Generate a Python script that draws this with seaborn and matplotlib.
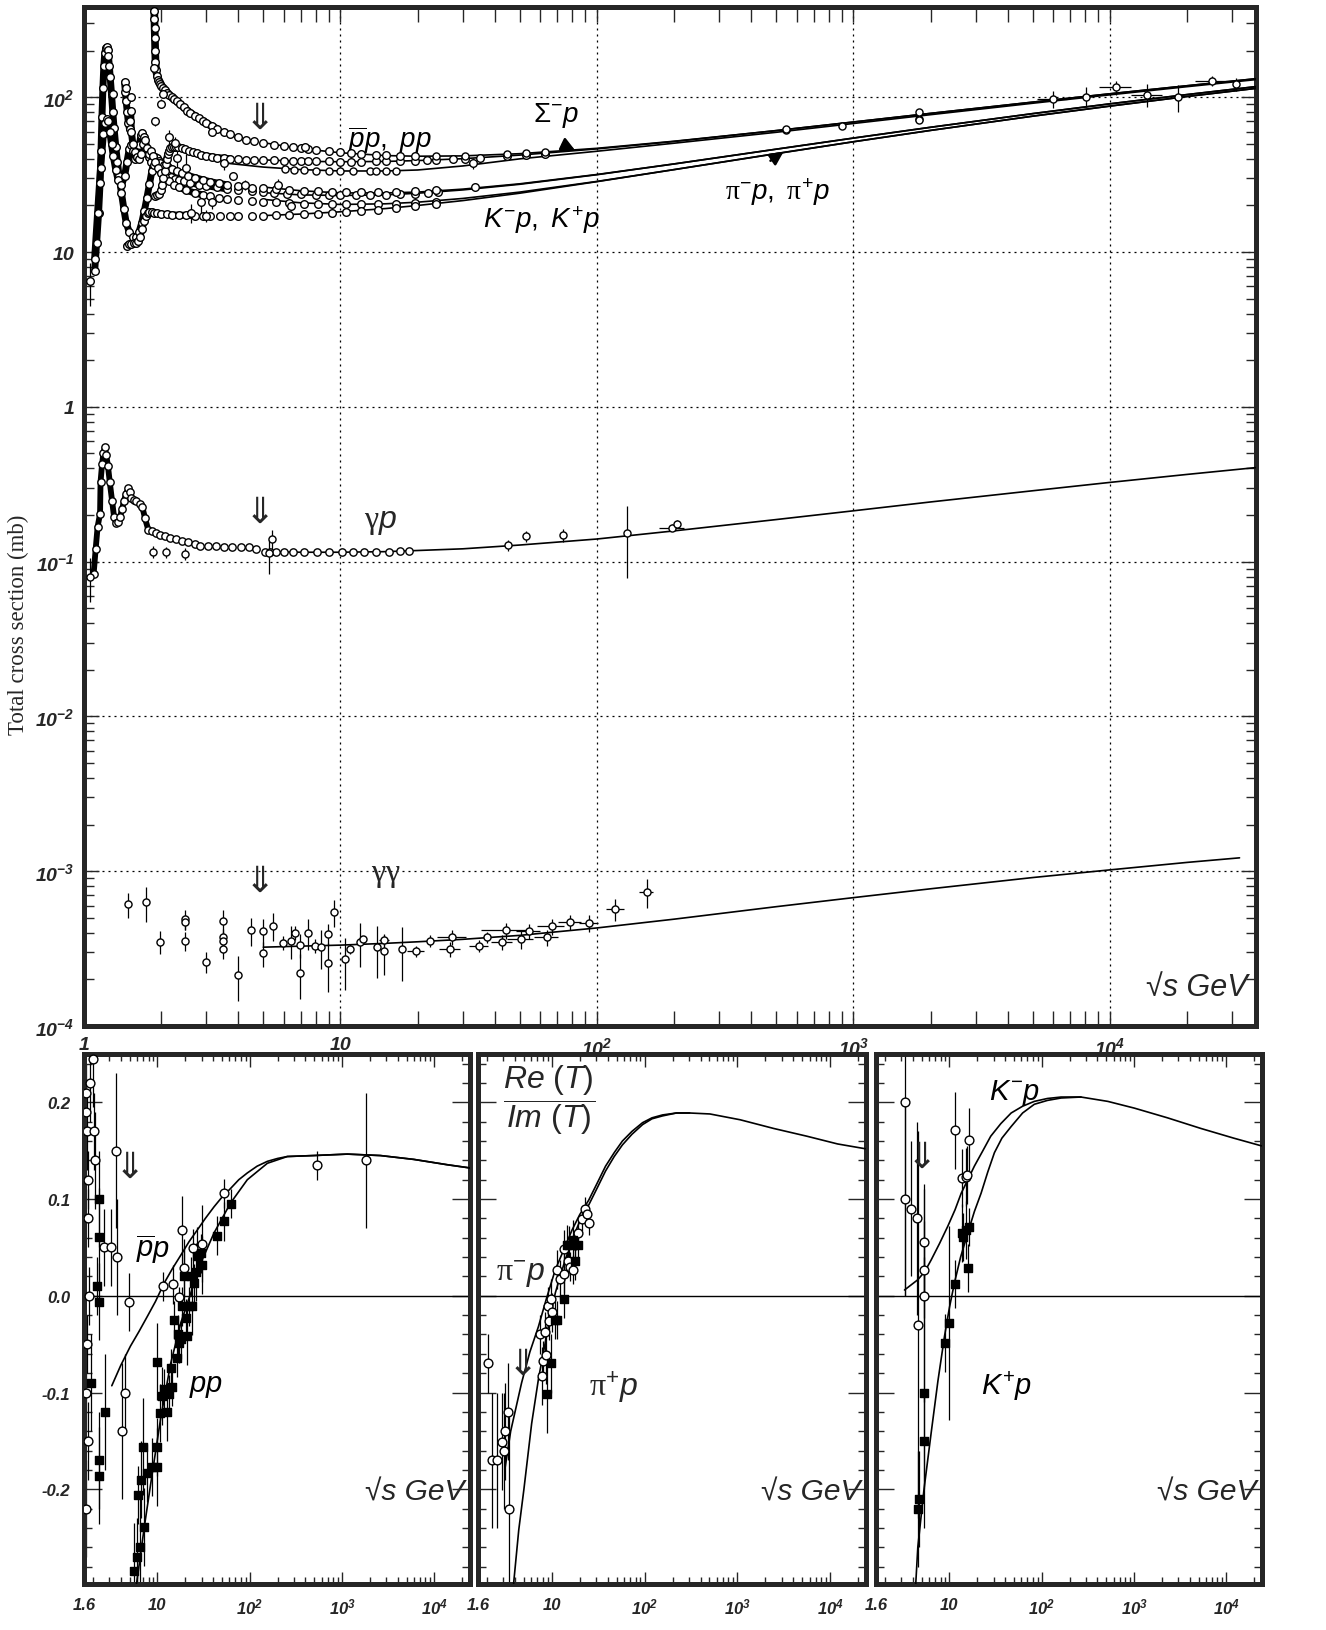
import matplotlib
matplotlib.use("Agg")
import matplotlib.pyplot as plt
import seaborn as sns
import numpy as np
from matplotlib.ticker import FixedLocator, LogLocator, MultipleLocator, NullFormatter

# ======================= TOP PANEL DATA =======================
# fitted curves (sqrt(s) in GeV, sigma in mb)
fit_s = [5, 7, 10, 15, 20, 30, 50, 100, 200, 500, 1000, 2000, 5000, 1e4, 2e4, 3.7e4]
fit_pbarp = [50.9, 46.6, 43.8, 42.0, 41.6, 41.8, 43.2, 46.8, 52.0, 60.9, 69.2, 78.7, 93.0, 105.3, 118.7, 131.7]
fit_pp = [39.4, 38.6, 38.3, 38.5, 39.0, 40.1, 42.3, 46.4, 51.8, 60.9, 69.2, 78.7, 93.0, 105.3, 118.7, 131.7]
fit_pim = [26.3, 24.9, 24.1, 24.1, 24.4, 25.5, 27.6, 31.7, 37.1, 46.2, 54.5, 64.0, 78.4, 90.7, 104.1, 117.1]
fit_pip = [24.2, 23.4, 23.2, 23.4, 24.0, 25.2, 27.4, 31.6, 37.1, 46.2, 54.5, 64.0, 78.4, 90.7, 104.1, 117.1]
fit_km = [21.9, 20.8, 20.3, 20.5, 21.0, 22.2, 24.4, 28.6, 34.1, 43.3, 51.6, 61.1, 75.5, 87.7, 101.2, 114.1]
fit_kp = [17.2, 17.6, 18.2, 19.1, 20.0, 21.5, 24.0, 28.5, 34.1, 43.2, 51.6, 61.1, 75.5, 87.7, 101.2, 114.1]
fit_gp = [0.116, 0.115, 0.115, 0.116, 0.118, 0.121, 0.128, 0.140, 0.158, 0.187, 0.213, 0.243, 0.287, 0.325, 0.366, 0.405]
fit_sig_s = [3.6, 5, 7, 10, 15, 20, 30, 50, 100, 200, 500, 1000, 2000, 5000, 1e4, 2e4, 3.7e4]
fit_sig = [37.5, 35.4, 34.1, 33.4, 33.4, 33.9, 36.0, 40.0, 44.8, 50.5, 59.4, 67.7, 77.2, 91.5, 103.7, 117.1, 130.0]
fit_gg_s = [5, 7, 10, 15, 20, 30, 50, 100, 200, 500, 1000, 2000, 5000, 1e4, 2e4, 3.2e4]
fit_gg = [3.23e-4, 3.28e-4, 3.33e-4, 3.42e-4, 3.5e-4, 3.63e-4, 3.85e-4, 4.3e-4, 4.9e-4, 5.9e-4,
          6.75e-4, 7.7e-4, 9.1e-4, 1.02e-3, 1.14e-3, 1.22e-3]

# measured cross sections
pip_x = [1.10, 1.12, 1.14, 1.155, 1.165, 1.175, 1.185, 1.195, 1.205, 1.215, 1.225, 1.235, 1.245, 1.255, 1.265,
         1.28, 1.295, 1.31, 1.33, 1.35, 1.37, 1.40, 1.43, 1.46, 1.50, 1.55, 1.60, 1.64, 1.68, 1.72, 1.76, 1.80,
         1.84, 1.87, 1.90, 1.93, 1.96, 2.00, 2.05, 2.10, 2.18, 2.26, 2.35, 2.45, 2.6, 2.8, 3.0, 3.3, 3.6, 4.0,
         4.5, 5.0, 5.5, 6.2, 7.0, 8.0, 9.0, 10.0, 11.5, 13.0, 15.0, 17.0, 19.5, 22.0, 24.0]
pip_y = [7.5, 11.5, 18, 28, 45, 75, 115, 160, 192, 207, 210, 203, 185, 160, 135, 105, 80, 63, 48, 38, 31, 24, 19,
         15.5, 13.5, 12.5, 12.5, 13.5, 15.5, 18.5, 22.5, 27.5, 33.5, 38, 41, 40.5, 38.5, 36, 33.5, 32, 30.5, 29.8,
         29.2, 28.6, 28, 27.3, 26.8, 26.2, 25.6, 25.1, 24.7, 24.4, 24.1, 23.8, 23.6, 23.4, 23.3, 23.2, 23.2, 23.3,
         23.4, 23.6, 23.8, 24.1, 24.3]
pim_x = [1.10, 1.13, 1.16, 1.19, 1.21, 1.225, 1.24, 1.26, 1.28, 1.30, 1.33, 1.36, 1.40, 1.44, 1.47, 1.50, 1.52,
         1.55, 1.58, 1.61, 1.64, 1.67, 1.69, 1.72, 1.75, 1.79, 1.83, 1.88, 1.93, 1.98, 2.05, 2.12, 2.2, 2.3, 2.42,
         2.55, 2.7, 2.9, 3.1, 3.35, 3.6, 4.0, 4.5, 5.0, 5.6, 6.3, 7.2, 8.2, 9.3, 10.5, 12, 14, 16.5, 19.5, 23.5]
pim_y = [9, 18, 35, 58, 68, 72, 70, 60, 50, 42, 34, 29, 27, 31, 38, 46, 49, 45, 40, 41, 49, 57, 59, 55, 47, 41, 38,
         36.5, 37.5, 37.8, 36.5, 35.3, 34.3, 33.3, 32.2, 31.2, 30.3, 29.3, 28.5, 27.8, 27.2, 26.6, 26.1, 25.8, 25.4,
         25.1, 24.9, 24.7, 24.6, 24.5, 24.4, 24.4, 24.5, 24.7, 25.0]
km_x = [1.44, 1.45, 1.46, 1.475, 1.49, 1.505, 1.515, 1.52, 1.53, 1.55, 1.58, 1.61, 1.64, 1.67, 1.70, 1.73, 1.76,
        1.79, 1.82, 1.85, 1.89, 1.94, 2.0, 2.07, 2.15, 2.25, 2.35, 2.5, 2.7, 2.9, 3.1, 3.35, 3.6, 4.0, 4.5, 5.0,
        5.6, 6.3, 7.2, 8.2, 9.3, 10.5, 12, 14, 16.5, 19.5, 23.5]
km_y = [125, 108, 95, 80, 68, 62, 70, 82, 60, 50, 44, 41, 40, 43, 50, 53, 47, 43, 45, 42, 38, 35, 32.5, 30.5, 28.8,
        27.3, 26.2, 25.1, 24.1, 23.4, 22.9, 22.4, 22.0, 21.6, 21.3, 21.1, 20.9, 20.7, 20.5, 20.4, 20.3, 20.3, 20.3,
        20.4, 20.5, 20.8, 21.1]
kp_x = [1.47, 1.50, 1.53, 1.56, 1.59, 1.62, 1.65, 1.68, 1.71, 1.74, 1.77, 1.80, 1.84, 1.88, 1.93, 2.0, 2.1, 2.2,
        2.35, 2.5, 2.7, 2.9, 3.1, 3.4, 3.7, 4.0, 4.5, 5.0, 5.6, 6.3, 7.2, 8.2, 9.3, 10.5, 12, 14, 16.5, 19.5, 23.5]
kp_y = [11.0, 11.2, 11.3, 11.4, 11.5, 11.8, 12.5, 14.0, 15.8, 17.2, 17.9, 18.2, 18.2, 18.0, 17.8, 17.6, 17.5, 17.4,
        17.3, 17.3, 17.2, 17.2, 17.2, 17.1, 17.1, 17.1, 17.1, 17.2, 17.3, 17.4, 17.5, 17.7, 17.9, 18.1, 18.4, 18.8,
        19.2, 19.7, 20.3]
pp_x = [1.90, 1.93, 1.96, 2.0, 2.02, 2.04, 2.06, 2.08, 2.10, 2.12, 2.14, 2.17, 2.2, 2.24, 2.28, 2.33, 2.4, 2.48,
        2.56, 2.65, 2.75, 2.85, 3.0, 3.15, 3.3, 3.5, 3.7, 4.0, 4.3, 4.6, 5.0, 5.5, 6.0, 6.5, 7.0, 7.5, 8.0, 9.0,
        10.0, 11.0, 12.0, 13.8, 15.0, 17.0, 19.5, 21.7, 23.5, 27.4, 30.6, 35, 44.7, 52.8, 62.5]
pp_y = [23.0, 23.2, 23.8, 25, 27, 30, 33.5, 37, 40, 43, 45, 47, 47.8, 48, 47.8, 47.4, 46.8, 46, 45.1, 44.2, 43.4,
        42.6, 41.8, 41.2, 40.8, 40.4, 40.1, 39.8, 39.6, 39.4, 39.3, 39.1, 39.0, 38.9, 38.8, 38.7, 38.6, 38.5, 38.4,
        38.4, 38.4, 38.5, 38.6, 38.8, 39.0, 39.3, 39.5, 39.9, 40.1, 40.6, 41.7, 42.4, 43.3]
pbp_x = [1.88, 1.882, 1.885, 1.89, 1.895, 1.90, 1.91, 1.925, 1.94, 1.96, 1.98, 2.0, 2.03, 2.06, 2.1, 2.15, 2.2,
         2.25, 2.3, 2.37, 2.45, 2.53, 2.6, 2.7, 2.8, 2.9, 3.0, 3.15, 3.3, 3.5, 3.7, 4.0, 4.3, 4.6, 5.0, 5.5, 6.0,
         6.5, 7.0, 7.5, 8.0, 9.0, 10.0, 11.0, 12.0, 13.8, 15.0, 17.0, 19.5]
pbp_y = [360, 320, 280, 240, 200, 170, 150, 138, 130, 125, 122, 119, 115, 111, 107, 103, 100, 97, 94, 90, 86, 82,
         79, 76, 73, 70.5, 68, 65, 62.5, 59.5, 57.5, 55, 53.2, 52, 50.8, 49.5, 48.3, 47.4, 46.7, 46.1, 45.6, 44.9,
         44.1, 43.6, 43.1, 42.5, 42.2, 41.9, 41.7]
pbp_hx = [23.5, 30.6, 44.7, 52.8, 62.5, 546, 546, 900, 1800, 1800, 1800]
pbp_hy = [41.6, 41.8, 42.8, 43.5, 44.3, 61.9, 62.5, 65.3, 72.8, 80.0, 71.7]
pbp_he = [0.3, 0.3, 0.3, 0.4, 0.4, 1.5, 1.5, 1.6, 3.1, 2.2, 2.0]
sig_x = [6.1, 6.6, 7.2, 8.0, 9.0, 10.0, 11.2, 13.0, 13.8, 15.0, 16.5]
sig_y = [34.3, 34.0, 33.7, 33.5, 33.4, 33.3, 33.2, 33.3, 33.3, 33.4, 33.6]
cr_x = [6000, 8100, 10600, 14000, 18400, 25000, 31000]
cr_y = [97, 101, 116, 104, 100, 128, 121]
cr_ye = [12, 15, 12, 17, 20, 9, 12]
cr_xe = [800, 0, 1500, 1900, 0, 3500, 0]
misc_x = [1.055, 1.46, 1.88, 1.90, 2.00, 2.03, 2.27, 2.30, 2.50, 2.85, 3.16, 3.16, 3.50, 3.80, 4.24, 5.70, 6.40,
          7.3, 33.0, 33.5, 1.30, 1.52, 2.15, 2.62, 3.0]
misc_y = [6.5, 115, 155, 70, 91, 105, 51, 40.5, 35, 21, 21, 60, 37.7, 31.2, 27, 27, 19.9, 47.5, 37.5, 26.5,
          105, 100, 55, 18, 17.2]
misc_e = [2.0, 8, 10, 5, 6, 6, 4, 5, 8, 3, 2, 3, 4, 1.2, 2, 2.5, 1.5, 2.5, 3.0, 1.5, 8, 6, 6, 2.5, 1.5]

gp_x = [1.09, 1.11, 1.13, 1.155, 1.16, 1.176, 1.19, 1.206, 1.22, 1.24, 1.26, 1.287, 1.31, 1.334, 1.36, 1.38, 1.41,
        1.43, 1.46, 1.49, 1.51, 1.53, 1.56, 1.6, 1.65, 1.69, 1.73, 1.78, 1.84, 1.91, 1.98, 2.06, 2.17, 2.29, 2.42,
        2.55, 2.7, 2.84, 3.05, 3.28, 3.5, 3.79, 4.1, 4.38, 4.7, 5.06, 5.3, 5.6, 6.0, 6.5, 7.2, 8.1, 9.0, 10.1,
        11.2, 12.4, 13.8, 15.5, 17, 18.5]
gp_y = [0.083, 0.12, 0.168, 0.204, 0.327, 0.425, 0.50, 0.55, 0.49, 0.415, 0.327, 0.246, 0.194, 0.177, 0.18, 0.194,
        0.22, 0.246, 0.275, 0.298, 0.28, 0.258, 0.25, 0.246, 0.235, 0.224, 0.19, 0.161, 0.157, 0.153, 0.149,
        0.146, 0.142, 0.139, 0.136, 0.133, 0.130, 0.127, 0.127, 0.127, 0.125, 0.124, 0.124, 0.124, 0.12, 0.116,
        0.115, 0.115, 0.115, 0.115, 0.115, 0.115, 0.115, 0.115, 0.115, 0.116, 0.116, 0.116, 0.117, 0.118]
gpo_x = [1.055, 1.86, 2.09, 2.48, 5.25, 5.42]
gpo_y = [0.080, 0.116, 0.115, 0.112, 0.113, 0.140]
gpo_e = [0.025, 0.010, 0.010, 0.010, 0.030, 0.020]
gph_x = [45, 53, 74, 131, 196, 205]
gph_y = [0.128, 0.146, 0.148, 0.153, 0.166, 0.175]
gph_e = [0.010, 0.012, 0.015, 0.075, 0.008, 0.010]
gph_xe = [0, 0, 0, 0, 22, 0]

gg_x = [1.49, 1.74, 1.98, 2.48, 2.48, 2.48, 2.98, 3.47, 3.47, 3.47, 3.47, 3.98, 4.46, 4.97, 4.97, 5.44, 5.95,
        6.44, 6.62, 6.95, 6.95, 7.45, 7.92, 8.42, 8.92, 8.92, 9.4, 10.4, 10.9, 11.9, 12.2, 13.9, 14.8, 14.8,
        17.3, 19.7, 22.4, 26.8, 27.3, 34.6, 37.4, 42.6, 44.3, 50.4, 54.2, 63.7, 66.5, 78.6, 93.1, 118, 156]
gg_y = [6.1, 6.3, 3.5, 4.9, 4.7, 3.55, 2.6, 4.8, 3.75, 3.55, 3.15, 2.15, 4.15, 4.1, 2.95, 4.45, 3.45, 3.55, 4.0,
        3.35, 2.2, 4.0, 3.3, 3.25, 3.95, 2.55, 5.45, 2.7, 3.15, 3.5, 3.65, 3.25, 3.6, 3.05, 3.15, 3.05, 3.55,
        3.15, 3.75, 3.3, 3.75, 3.5, 4.15, 3.65, 4.1, 3.75, 4.4, 4.7, 4.65, 5.7, 7.35]   # units of 1e-4 mb
gg_e = [1.1, 1.6, 0.6, 0.7, 0.5, 0.5, 0.4, 0.8, 0.5, 0.5, 0.45, 0.7, 0.85, 0.8, 0.55, 0.9, 0.35, 0.85, 0.4, 0.6,
        0.7, 0.9, 0.35, 0.9, 0.6, 0.9, 1.1, 1.0, 0.25, 1.1, 0.15, 1.2, 0.3, 0.9, 1.2, 0.25, 0.3, 0.35, 0.4, 0.3,
        0.3, 0.4, 0.5, 0.5, 0.45, 0.45, 0.5, 0.5, 0.6, 0.9, 1.6]
gg_xe = [0, 0, 0, 0, 0, 0, 0, 0, 0, 0, 0, 0, 0, 0, 0, 0, 0, 0, 0, 0, 0, 0, 0, 0, 0, 0, 0, 0, 0, 0, 0, 0, 0.7, 0,
         0, 1.5, 0, 2.5, 3.5, 3.0, 0, 4.0, 9.0, 6.0, 6.0, 7.0, 8.0, 8.0, 8.0, 10.0, 10.0]

# ======================= BOTTOM PANELS DATA (rho = Re/Im) =======================
rho_pp_fit_x = [5.0, 7.2, 8.8, 10.9, 13.9, 17.9, 23, 29.5, 41, 62, 94, 155, 255, 490, 1140, 2600, 6000, 13800, 25000]
rho_pp_fit_y = [-0.35, -0.239, -0.183, -0.125, -0.070, -0.028, 0.003, 0.034, 0.065, 0.096, 0.120, 0.137, 0.144,
                0.145, 0.1465, 0.145, 0.141, 0.1355, 0.132]
rho_pbp_fit_x = [3.2, 4.0, 5.1, 6.3, 7.8, 9.5, 11.8, 14.5, 17.9, 22, 27, 33, 41, 50, 62, 76, 94, 120, 155, 200, 255,
                 490, 1140, 2600, 6000, 13800, 25000]
rho_pbp_fit_y = [-0.093, -0.072, -0.052, -0.037, -0.021, -0.006, 0.013, 0.028, 0.042, 0.056, 0.068, 0.080, 0.092,
                 0.102, 0.111, 0.120, 0.127, 0.134, 0.139, 0.142, 0.144, 0.145, 0.1465, 0.145, 0.141, 0.1355, 0.132]
rho_pbp_x = [1.68, 1.70, 1.72, 1.75, 1.78, 1.80, 1.72, 1.70, 1.75, 1.68, 1.85, 2.0, 2.05, 2.1, 2.64, 3.1, 3.6,
             3.54, 4.9, 4.5, 4.08, 11.5, 14.9, 17.0, 18.3, 19.4, 24.1, 30.7, 52.6, 541, 1800]
rho_pbp_y = [0.21, 0.19, 0.17, 0.12, 0.08, 0.0, -0.05, -0.10, -0.15, -0.22, 0.22, 0.245, 0.17, 0.14, 0.05, 0.05,
             0.04, 0.15, -0.006, -0.10, -0.14, 0.010, 0.012, -0.001, 0.068, 0.029, 0.049, 0.054, 0.106, 0.135, 0.140]
rho_pbp_e = [0.03, 0.03, 0.04, 0.03, 0.03, 0.03, 0.03, 0.04, 0.04, 0.05, 0.04, 0.05, 0.04, 0.05, 0.04, 0.04, 0.06,
             0.08, 0.03, 0.04, 0.07, 0.015, 0.02, 0.01, 0.035, 0.03, 0.02, 0.04, 0.015, 0.015, 0.07]
rho_pp_x = [6.1, 6.6, 6.9, 7.2, 7.67, 8.68, 9.83, 10.0, 9.83, 10.7, 11.3, 11.8, 12.6, 13.4, 13.9, 14.5, 15.1, 16.2,
            16.7, 17.1, 17.9, 18.3, 19.4, 20.4, 21.0, 22.0, 23.0, 23.9, 24.9, 25.9, 27.0, 29.5, 30.2, 44.6, 52.6,
            62.0, 5.6, 6.0, 6.4, 2.33, 2.33, 2.33, 2.2, 1.9, 2.7, 2.3, 2.3]
rho_pp_y = [-0.206, -0.19, -0.156, -0.239, -0.183, -0.177, -0.177, -0.156, -0.068, -0.121, -0.104, -0.096, -0.12,
            -0.102, -0.075, -0.094, -0.025, -0.064, -0.04, -0.049, -0.045, -0.011, 0.02, -0.023, -0.042, -0.011,
            0.02, -0.011, 0.013, 0.025, 0.041, 0.044, 0.032, 0.062, 0.077, 0.095, -0.285, -0.27, -0.26, 0.10,
            0.061, -0.006, 0.01, -0.09, -0.12, -0.17, -0.186]
rho_pp_e = [0.03, 0.04, 0.05, 0.04, 0.03, 0.03, 0.04, 0.03, 0.04, 0.03, 0.03, 0.02, 0.03, 0.02, 0.02, 0.02, 0.02,
            0.02, 0.02, 0.02, 0.02, 0.02, 0.03, 0.02, 0.03, 0.02, 0.02, 0.03, 0.02, 0.03, 0.03, 0.02, 0.03, 0.02,
            0.02, 0.015, 0.05, 0.04, 0.05, 0.05, 0.05, 0.04, 0.03, 0.05, 0.06, 0.05, 0.05]

rho_pim_fit_x = [3.11, 3.6, 4.72, 5.8, 7.16, 8.8, 10.9, 13.5, 16.5, 20, 25, 31, 37.9, 47, 57.6, 73, 95, 120, 156,
                 220, 305, 505, 1070, 2460, 5600, 12000, 24000]
rho_pim_fit_y = [-0.18, -0.14, -0.09, -0.058, -0.032, -0.002, 0.027, 0.048, 0.068, 0.084, 0.099, 0.117, 0.134,
                 0.148, 0.160, 0.170, 0.179, 0.184, 0.187, 0.189, 0.189, 0.188, 0.182, 0.173, 0.165, 0.157, 0.152]
rho_pip_fit_x = [3.85, 4.4, 5.0, 6.06, 7.2, 8.47, 9.6, 10.9, 13.5, 16.5, 20, 25, 31, 37.9, 47, 57.6, 73, 95, 120,
                 156, 220, 305]
rho_pip_fit_y = [-0.30, -0.242, -0.20, -0.132, -0.085, -0.049, -0.022, 0.003, 0.033, 0.058, 0.077, 0.094, 0.112,
                 0.129, 0.144, 0.156, 0.167, 0.177, 0.183, 0.186, 0.189, 0.189]
rho_pim_x = [2.05, 2.27, 2.59, 2.87, 3.04, 3.16, 3.33, 3.46, 7.47, 7.79, 8.12, 8.6, 8.47, 8.98, 9.35, 9.76, 10.1,
             11.3, 12.1, 13.4, 13.4, 14.8, 15.8, 16.8, 17.6, 19.0, 21.2, 23.0, 24.0, 25.0]
rho_pim_y = [-0.07, -0.17, -0.17, -0.151, -0.16, -0.14, -0.12, -0.22, -0.04, -0.083, -0.067, -0.061, -0.037,
             -0.011, -0.026, -0.003, -0.017, 0.027, 0.017, 0.023, 0.048, 0.036, 0.03, 0.027, 0.053, 0.065, 0.079,
             0.09, 0.085, 0.075]
rho_pim_e = [0.03, 0.07, 0.07, 0.05, 0.06, 0.05, 0.05, 0.10, 0.02, 0.03, 0.02, 0.03, 0.02, 0.02, 0.02, 0.02, 0.02,
             0.02, 0.02, 0.02, 0.02, 0.015, 0.015, 0.015, 0.015, 0.012, 0.012, 0.012, 0.01, 0.012]
rho_pip_x = [8.83, 9.8, 10.7, 11.3, 13.4, 14.5, 15.4, 16.8, 17.6, 19.1]
rho_pip_y = [-0.102, -0.07, -0.025, -0.025, -0.003, 0.053, 0.052, 0.058, 0.036, 0.053]
rho_pip_e = [0.04, 0.03, 0.02, 0.02, 0.02, 0.02, 0.02, 0.02, 0.02, 0.015]

rho_km_fit_x = [3.26, 4.54, 5.4, 6.33, 7.8, 9.6, 11.5, 13.4, 15.8, 18.6, 23, 28, 36, 46.6, 62, 83, 115, 162, 266,
                519, 1010, 2300, 5300, 12000, 24000]
rho_km_fit_y = [0.006, 0.0166, 0.025, 0.037, 0.054, 0.072, 0.089, 0.106, 0.12, 0.134, 0.15, 0.165, 0.178, 0.189,
                0.196, 0.201, 0.204, 0.2055, 0.2055, 0.201, 0.194, 0.184, 0.173, 0.163, 0.155]
rho_kp_fit_x = [4.3, 4.54, 5.3, 6.33, 7.5, 8.83, 10, 11.3, 13.2, 15.8, 18.6, 22, 26, 30.7, 37, 46.6, 62, 83, 115,
                162, 266]
rho_kp_fit_y = [-0.30, -0.26, -0.20, -0.142, -0.088, -0.042, -0.012, 0.013, 0.040, 0.065, 0.087, 0.106, 0.128,
                0.148, 0.163, 0.175, 0.189, 0.198, 0.202, 0.2045, 0.2055]
rho_km_x = [3.28, 3.28, 3.84, 4.46, 5.27, 5.27, 5.27, 4.54, 11.6, 13.8, 15.1, 15.5, 16.4]
rho_km_y = [0.20, 0.10, 0.09, 0.08, 0.056, 0.027, 0.0, -0.03, 0.171, 0.122, 0.123, 0.125, 0.161]
rho_km_e = [0.20, 0.10, 0.07, 0.10, 0.06, 0.05, 0.11, 0.20, 0.04, 0.03, 0.03, 0.03, 0.033]
rho_kp_x = [5.24, 5.27, 4.62, 4.54, 9.05, 10.0, 11.6, 13.7, 14.1, 15.2, 16.2, 15.8]
rho_kp_y = [-0.10, -0.15, -0.21, -0.22, -0.049, -0.028, 0.012, 0.065, 0.061, 0.068, 0.071, 0.029]
rho_kp_e = [0.14, 0.05, 0.05, 0.06, 0.03, 0.10, 0.025, 0.03, 0.025, 0.03, 0.02, 0.025]

# tick label texts
top_x_ticks = [1, 10, 100, 1000, 10000]
top_x_labels = ["1", "10", r"10$^{\mathbf{2}}$", r"10$^{\mathbf{3}}$", r"10$^{\mathbf{4}}$"]
top_y_ticks = [1e-4, 1e-3, 1e-2, 1e-1, 1, 10, 100]
top_y_labels = [r"10$^{\mathbf{-4}}$", r"10$^{\mathbf{-3}}$", r"10$^{\mathbf{-2}}$", r"10$^{\mathbf{-1}}$",
                "1", "10", r"10$^{\mathbf{2}}$"]
bot_x_ticks = [1.6, 10, 100, 1000, 10000]
bot_x_labels = ["1.6", "10", r"10$^{\mathbf{2}}$", r"10$^{\mathbf{3}}$", r"10$^{\mathbf{4}}$"]
bot_y_ticks = [-0.2, -0.1, 0.0, 0.1, 0.2]
bot_y_labels = ["-0.2", "-0.1", "0.0", "0.1", "0.2"]

# ======================= STYLE =======================
sns.set_style("ticks")
plt.rcParams["font.family"] = ["Liberation Sans", "DejaVu Sans"]
plt.rcParams["mathtext.fontset"] = "custom"
plt.rcParams["mathtext.rm"] = "Liberation Sans"
plt.rcParams["mathtext.it"] = "Liberation Sans:style=italic"
plt.rcParams["mathtext.bf"] = "Liberation Sans:style=italic:weight=bold"
plt.rcParams["mathtext.sf"] = "Liberation Serif"
plt.rcParams["axes.linewidth"] = 3.6

fig = plt.figure(figsize=(13.26, 16.31), dpi=100)
ax_t = fig.add_axes([0.06335, 0.37033, 0.88386, 0.62477])
ax1 = fig.add_axes([0.06335, 0.02820, 0.29110, 0.32496])
ax2 = fig.add_axes([0.36048, 0.02820, 0.29261, 0.32496])
ax3 = fig.add_axes([0.66063, 0.02820, 0.29110, 0.32496])


def draw_line(ax, xs, ys, lw=1.0):
    sns.lineplot(x=list(xs), y=list(ys), ax=ax, color="black", linewidth=lw,
                 estimator=None, sort=False, legend=False, zorder=3)


def draw_points(ax, xs, ys, yerr=None, xerr=None, marker="o", filled=False, s=26, elw=0.9):
    if yerr is not None or xerr is not None:
        ax.errorbar(xs, ys, yerr=yerr, xerr=xerr, fmt="none", ecolor="black",
                    elinewidth=elw, capsize=0, zorder=2.5)
    sns.scatterplot(x=list(xs), y=list(ys), ax=ax, marker=marker, s=s,
                    color=("black" if filled else "white"), edgecolor="black",
                    linewidth=1.0, legend=False, zorder=4)


def draw_band(ax, xs, ys, cut, lw=5.0, s=30):
    bx = [x for x in xs if x <= cut]
    by = [y for x, y in zip(xs, ys) if x <= cut]
    draw_line(ax, bx, by, lw=lw)
    draw_points(ax, xs, ys, s=s)


def tick_font(ax, which, size, family=None):
    labels = ax.get_xticklabels() if which == "x" else ax.get_yticklabels()
    for t in labels:
        t.set_fontweight("bold")
        t.set_fontstyle("italic")
        t.set_fontsize(size)
        if family:
            t.set_family(family)


# ======================= TOP PANEL =======================
ax = ax_t
ax.set_xscale("log")
ax.set_yscale("log")
ax.set_xlim(1, 37100)
ax.set_ylim(1e-4, 383)

for ys in (fit_pbarp, fit_pp, fit_pim, fit_pip, fit_km, fit_kp, fit_gp):
    draw_line(ax, fit_s, ys, lw=1.2)
draw_line(ax, fit_sig_s, fit_sig, lw=1.2)
draw_line(ax, fit_gg_s, fit_gg, lw=1.2)

draw_band(ax, pip_x, pip_y, 3.8)
draw_band(ax, pim_x, pim_y, 3.8)
draw_band(ax, km_x, km_y, 3.0)
draw_band(ax, kp_x, kp_y, 2.85)
draw_band(ax, pp_x, pp_y, 3.8)
draw_band(ax, pbp_x, pbp_y, 3.3, lw=5.5)
draw_points(ax, pbp_hx, pbp_hy, yerr=pbp_he)
draw_points(ax, sig_x, sig_y)
draw_points(ax, cr_x, cr_y, yerr=cr_ye, xerr=cr_xe)
draw_points(ax, misc_x, misc_y, yerr=misc_e, s=30)
draw_band(ax, gp_x, gp_y, 2.2, lw=4.2, s=28)
draw_points(ax, gpo_x, gpo_y, yerr=gpo_e)
draw_points(ax, gph_x, gph_y, yerr=gph_e, xerr=gph_xe)
draw_points(ax, gg_x, [v * 1e-4 for v in gg_y], yerr=[v * 1e-4 for v in gg_e], xerr=gg_xe)

ax.set_xlabel("")
ax.set_ylabel("")
ax.set_axisbelow(True)
ax.grid(True, which="major", axis="both", color="black", linestyle=(0, (1.6, 3.2)), linewidth=0.9)
ax.xaxis.set_major_locator(FixedLocator(top_x_ticks))
ax.xaxis.set_minor_locator(LogLocator(base=10, subs=np.arange(2, 10) * 1.0, numticks=30))
ax.xaxis.set_minor_formatter(NullFormatter())
ax.set_xticklabels(top_x_labels)
ax.yaxis.set_major_locator(FixedLocator(top_y_ticks))
ax.yaxis.set_minor_locator(LogLocator(base=10, subs=np.arange(2, 10) * 1.0, numticks=30))
ax.yaxis.set_minor_formatter(NullFormatter())
ax.set_yticklabels(top_y_labels)
tick_font(ax, "x", 14)
tick_font(ax, "y", 14)
ax.tick_params(which="both", direction="in", top=True, right=True, width=1.0, pad=7)
ax.tick_params(axis="x", which="major", length=11)
ax.tick_params(axis="x", which="minor", length=11)
ax.tick_params(axis="y", which="major", length=11)
ax.tick_params(axis="y", which="minor", length=7)

lab = dict(fontsize=20, color="black")
ax.text(10.7, 53.5, r"$\overline{p}p,\ pp$", ha="left", va="center", **lab)
ax.text(56.3, 77.6, r"$\Sigma^{-}p$", ha="left", va="center", **lab)
ax.text(35.9, 16.2, r"$K^{-}p,\ K^{+}p$", ha="left", va="center", **lab)
ax.text(316, 24.7, r"$\mathsf{\pi}^{-}p,\ \mathsf{\pi}^{+}p$", ha="left", va="center", **lab)
ax.text(12.3, 0.183, r"$\mathsf{\gamma}p$", ha="left", va="center", fontsize=23)
ax.text(13.2, 9.6e-4, r"$\mathsf{\gamma\gamma}$", ha="left", va="center", fontsize=23)
ax.text(0.993, 0.038, "√s GeV", transform=ax.transAxes, ha="right", va="center", fontsize=22,
        fontstyle="italic")
for yy in (74, 0.209, 8.7e-4):
    ax.text(4.86, yy, "⇓", ha="center", va="center", fontsize=26, family=["DejaVu Sans"])
ax.annotate("", xy=(84, 44.7), xytext=(72, 50.5),
            arrowprops=dict(arrowstyle="-|>", color="black", lw=1.8, mutation_scale=20))
ax.annotate("", xy=(545, 45.5), xytext=(465, 38.0),
            arrowprops=dict(arrowstyle="-|>", color="black", lw=1.8, mutation_scale=20))

fig.text(0.0136, 0.617, "Total cross section (mb)", rotation=90, ha="center", va="center",
         fontsize=16.5, family=["Liberation Serif", "DejaVu Serif"])

# ======================= BOTTOM PANELS =======================
for a in (ax1, ax2, ax3):
    a.set_xscale("log")
    a.set_xlim(1.6, 24300)
    a.set_ylim(-0.298, 0.25)

# panel 1 : pp, pbar p
draw_line(ax1, rho_pp_fit_x, rho_pp_fit_y, lw=1.2)
draw_line(ax1, rho_pbp_fit_x, rho_pbp_fit_y, lw=1.2)
draw_points(ax1, rho_pbp_x, rho_pbp_y, yerr=rho_pbp_e, s=40)
draw_points(ax1, rho_pp_x, rho_pp_y, yerr=rho_pp_e, marker="s", filled=True, s=30)

# panel 2 : pi p
draw_line(ax2, rho_pim_fit_x, rho_pim_fit_y, lw=1.2)
draw_line(ax2, rho_pip_fit_x, rho_pip_fit_y, lw=1.2)
draw_points(ax2, rho_pim_x, rho_pim_y, yerr=rho_pim_e, s=40)
draw_points(ax2, rho_pip_x, rho_pip_y, yerr=rho_pip_e, marker="s", filled=True, s=30)

# panel 3 : K p
draw_line(ax3, rho_km_fit_x, rho_km_fit_y, lw=1.2)
draw_line(ax3, rho_kp_fit_x, rho_kp_fit_y, lw=1.2)
draw_points(ax3, rho_km_x, rho_km_y, yerr=rho_km_e, s=40)
draw_points(ax3, rho_kp_x, rho_kp_y, yerr=rho_kp_e, marker="s", filled=True, s=30)

for i, a in enumerate((ax1, ax2, ax3)):
    a.axhline(0.0, color="black", lw=1.0, zorder=1)
    a.set_xlabel("")
    a.set_ylabel("")
    a.xaxis.set_major_locator(FixedLocator(bot_x_ticks))
    a.xaxis.set_minor_locator(LogLocator(base=10, subs=np.arange(2, 10) * 1.0, numticks=30))
    a.xaxis.set_minor_formatter(NullFormatter())
    a.set_xticklabels(bot_x_labels)
    tick_font(a, "x", 12, ["Liberation Sans Narrow", "Liberation Sans"])
    a.yaxis.set_major_locator(FixedLocator(bot_y_ticks))
    a.yaxis.set_minor_locator(MultipleLocator(0.02))
    a.tick_params(which="both", direction="in", top=True, right=True, width=1.0, pad=9)
    a.tick_params(axis="x", which="major", length=9)
    a.tick_params(axis="x", which="minor", length=5)
    a.tick_params(axis="y", which="major", length=13)
    a.tick_params(axis="y", which="minor", length=6)
    if i == 0:
        a.set_yticklabels(bot_y_labels)
        tick_font(a, "y", 12)
        a.tick_params(axis="y", pad=10)
    else:
        a.set_yticklabels([])
    a.text(0.985, 0.175, "√s GeV", transform=a.transAxes, ha="right", va="center", fontsize=21.5,
           fontstyle="italic")

plab = dict(fontsize=21, color="black")
ax1.text(5.8, 0.049, r"$\overline{p}p$", ha="left", va="center", **plab)
ax1.text(22, -0.092, r"$pp$", ha="left", va="center", **plab)
ax1.text(5.0, 0.133, "⇓", ha="center", va="center", fontsize=26, family=["DejaVu Sans"])
ax2.text(9.5, 0.203, r"$\dfrac{Re\ (T)}{Im\ (T)}$", ha="center", va="center", fontsize=23)
ax2.text(2.5, 0.023, r"$\mathsf{\pi}^{-}p$", ha="left", va="center", fontsize=23)
ax2.text(25, -0.094, r"$\mathsf{\pi}^{+}p$", ha="left", va="center", fontsize=23)
ax2.text(4.9, -0.07, "⇓", ha="center", va="center", fontsize=26, family=["DejaVu Sans"])
ax3.text(27, 0.211, r"$K^{-}p$", ha="left", va="center", **plab)
ax3.text(22, -0.092, r"$K^{+}p$", ha="left", va="center", **plab)
ax3.text(5.0, 0.144, "⇓", ha="center", va="center", fontsize=26, family=["DejaVu Sans"])

fig.savefig("out.png", dpi=100)
